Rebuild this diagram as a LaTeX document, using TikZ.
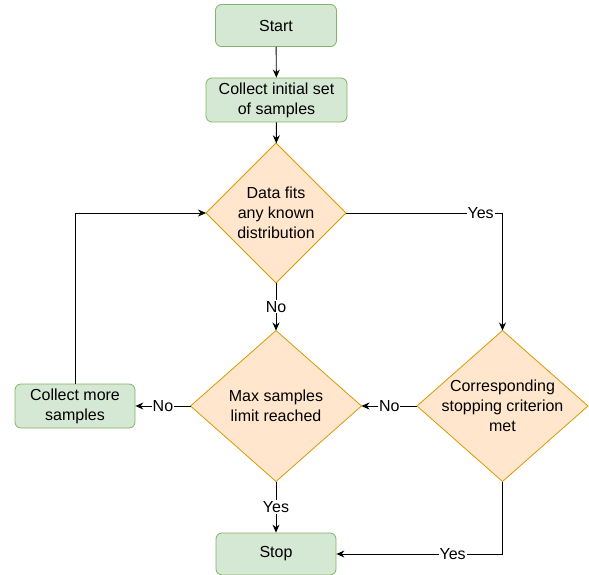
\documentclass[tikz,border=0pt]{standalone}
\usepackage{fontspec}
\setmainfont{Liberation Sans}
\usetikzlibrary{shapes.geometric,arrows.meta}

\definecolor{termfill}{HTML}{D5E8D4}
\definecolor{termline}{HTML}{82B366}
\definecolor{askfill}{HTML}{FFE6CC}
\definecolor{askline}{HTML}{D79B00}

\tikzset{
  every node/.style={font=\fontsize{16}{20}\selectfont, align=center},
  termbox/.style={draw=termline, fill=termfill, rounded corners=6pt,
    line width=0.8pt, inner sep=0pt},
  askbox/.style={diamond, draw=askline, fill=askfill, line width=0.8pt,
    inner sep=0pt, outer sep=0pt},
  flow/.style={line width=0.9pt, -{Stealth[length=8pt,width=7pt]}},
  answer/.style={fill=white, inner sep=1pt}
}

\begin{document}
\begin{tikzpicture}[x=1pt,y=-1pt]
  \useasboundingbox (0,0) rectangle (589,575);

  % boxes
  \node[termbox, minimum width=121pt, minimum height=42pt] (start) at (276,25.5) {Start};
  \node[termbox, minimum width=141pt, minimum height=44pt] (collect) at (276.5,100) {Collect initial set\\of samples};
  \node[askbox, minimum width=140pt, minimum height=140pt] (fits) at (276,213) {};
  \node at (fits) {Data fits\\any known\\distribution};
  \node[askbox, minimum width=171pt, minimum height=151pt] (maxlim) at (276,406) {};
  \node at (maxlim) {Max samples\\limit reached};
  \node[askbox, minimum width=171pt, minimum height=151pt] (crit) at (502.5,406) {};
  \node at (crit) {Corresponding\\stopping criterion\\met};
  \node[termbox, minimum width=120pt, minimum height=44pt] (more) at (75,406) {Collect more\\samples};
  \node[termbox, minimum width=120pt, minimum height=42pt] (stop) at (276,554) {Stop};

  % connectors
  \draw[flow] (start) -- (collect);
  \draw[flow] (collect) -- (fits);
  \draw[flow] (fits.south) -- node[answer] {No} (maxlim.north);
  \draw[flow] (fits.east) -| node[answer, pos=0.43] {Yes} (crit.north);
  \draw[flow] (crit.west) -- node[answer] {No} (maxlim.east);
  \draw[flow] (maxlim.west) -- node[answer] {No} (more.east);
  \draw[flow] (maxlim.south) -- node[answer] {Yes} (stop.north);
  \draw[flow] (crit.south) |- node[answer, pos=0.65] {Yes} (stop.east);
  \draw[flow] (more.north) |- (fits.west);
\end{tikzpicture}
\end{document}
